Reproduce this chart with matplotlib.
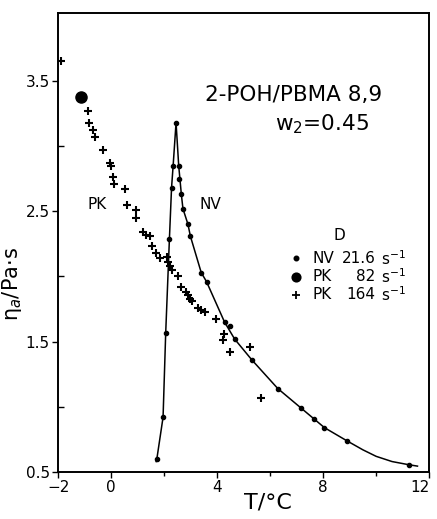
import numpy as np
import matplotlib.pyplot as plt

# NV, D = 21.6 s-1 (small dots)
nv_T = [1.74, 1.96, 2.06, 2.20, 2.28, 2.34, 2.45, 2.55, 2.57, 2.65, 2.71, 2.90, 2.99,
        3.40, 3.60, 4.28, 4.47, 4.66, 5.31, 6.29, 7.17, 7.67, 8.05, 8.89, 11.25]
nv_eta = [0.60, 0.92, 1.57, 2.29, 2.68, 2.85, 3.18, 2.85, 2.75, 2.63, 2.52, 2.40, 2.31,
          2.03, 1.96, 1.65, 1.62, 1.52, 1.36, 1.14, 0.99, 0.91, 0.84, 0.74, 0.55]

# drawn NV curve
curve_T = [1.70, 1.74, 1.96, 2.06, 2.20, 2.28, 2.34, 2.45, 2.55, 2.65, 2.71, 2.90, 2.99,
           3.40, 3.60, 4.28, 4.66, 5.31, 6.29, 7.17, 8.05, 8.89, 9.50, 10.00, 10.60, 11.25, 11.56]
curve_eta = [0.58, 0.62, 0.92, 1.57, 2.29, 2.68, 2.85, 3.18, 2.85, 2.63, 2.52, 2.40, 2.31,
             2.03, 1.96, 1.65, 1.52, 1.36, 1.14, 0.99, 0.84, 0.74, 0.67, 0.62, 0.58, 0.555, 0.545]

# PK, D = 82 s-1 (big dot)
pk82_T = [-1.13]
pk82_eta = [3.38]

# PK, D = 164 s-1 (plus)
pk164_T = [-1.90, -0.86, -0.82, -0.67, -0.60, -0.30, -0.04, 0.00, 0.06, 0.12, 0.53, 0.60,
           0.93, 0.94, 1.21, 1.32, 1.47, 1.56, 1.69, 1.84, 2.09, 2.15, 2.21, 2.28, 2.53,
           2.65, 2.84, 2.90, 2.97, 3.07, 3.28, 3.41, 3.53, 3.95, 4.25, 4.21, 4.50, 5.23, 5.64]
pk164_eta = [3.65, 3.27, 3.18, 3.12, 3.07, 2.97, 2.87, 2.85, 2.76, 2.71, 2.67, 2.55,
             2.51, 2.45, 2.34, 2.32, 2.31, 2.23, 2.18, 2.14, 2.15, 2.11, 2.08, 2.05, 2.00,
             1.92, 1.88, 1.86, 1.83, 1.81, 1.76, 1.74, 1.73, 1.67, 1.56, 1.51, 1.42, 1.46, 1.07]

x_ticks = [-2, 0, 4, 8, 12]
x_labels = ['\u22122', '0', '4', '8', '12']
y_ticks = [0.5, 1.5, 2.5, 3.5]
y_labels = ['0.5', '1.5', '2.5', '3.5']

leg_names = ["NV", "PK", "PK"]
leg_rates = ["21.6", "82", "164"]

plt.rcParams['font.family'] = 'DejaVu Sans'
fig = plt.figure(figsize=(4.37, 5.19), dpi=100)
ax = fig.add_axes([0.133, 0.0906, 0.849, 0.884])

ax.plot(curve_T, curve_eta, color='black', lw=1.1)
ax.plot(nv_T, nv_eta, 'o', color='black', ms=3)
ax.plot(pk82_T, pk82_eta, 'o', color='black', ms=8)
ax.plot(pk164_T, pk164_eta, '+', color='black', ms=5.5, mew=1.5)

ax.set_xlim(-2, 12)
ax.set_ylim(0.5, 4.02)
ax.set_xticks(x_ticks)
ax.set_xticks([2, 6, 10], minor=True)
ax.set_yticks(y_ticks)
ax.set_yticks([1.0, 2.0, 3.0], minor=True)
ax.set_xticklabels(x_labels)
ax.set_yticklabels(y_labels)
ax.get_xticklabels()[-1].set_horizontalalignment('right')
ax.tick_params(which='major', direction='out', length=4, width=1, labelsize=11, pad=2)
ax.tick_params(axis='x', which='minor', direction='out', length=3, width=1)
ax.tick_params(axis='y', which='minor', direction='in', length=4, width=1)
for s in ax.spines.values():
    s.set_linewidth(1.4)

ax.set_xlabel('T/\u00b0C', fontsize=16)
ax.xaxis.set_label_coords(0.565, -0.045)
ax.set_ylabel('\u03b7$_a$/Pa\u00b7s', fontsize=15)
ax.yaxis.set_label_coords(-0.092, 0.41)

ax.text(-0.9, 2.52, 'PK', fontsize=11)
ax.text(3.35, 2.52, 'NV', fontsize=11)
ax.text(3.55, 3.35, '2-POH/PBMA 8,9', fontsize=15.5)
ax.text(6.2, 3.12, 'w$_2$=0.45', fontsize=15.5)

# legend block
ax.text(0.757, 0.515, 'D', transform=ax.transAxes, fontsize=11, ha='center', va='center')
rows_y = [0.466, 0.425, 0.386]
leg_ms = [3, 6, 6]
leg_mk = ['o', 'o', '+']
for i in range(3):
    y = rows_y[i]
    ax.plot([0.642], [y], leg_mk[i], color='black', ms=leg_ms[i], mew=1.3,
            transform=ax.transAxes, clip_on=False)
    ax.text(0.685, y, leg_names[i], transform=ax.transAxes, fontsize=11, va='center')
    ax.text(0.855, y, leg_rates[i], transform=ax.transAxes, fontsize=11, va='center', ha='right')
    ax.text(0.87, y, 's$^{-1}$', transform=ax.transAxes, fontsize=11, va='center')

fig.savefig('out.png', dpi=100)
